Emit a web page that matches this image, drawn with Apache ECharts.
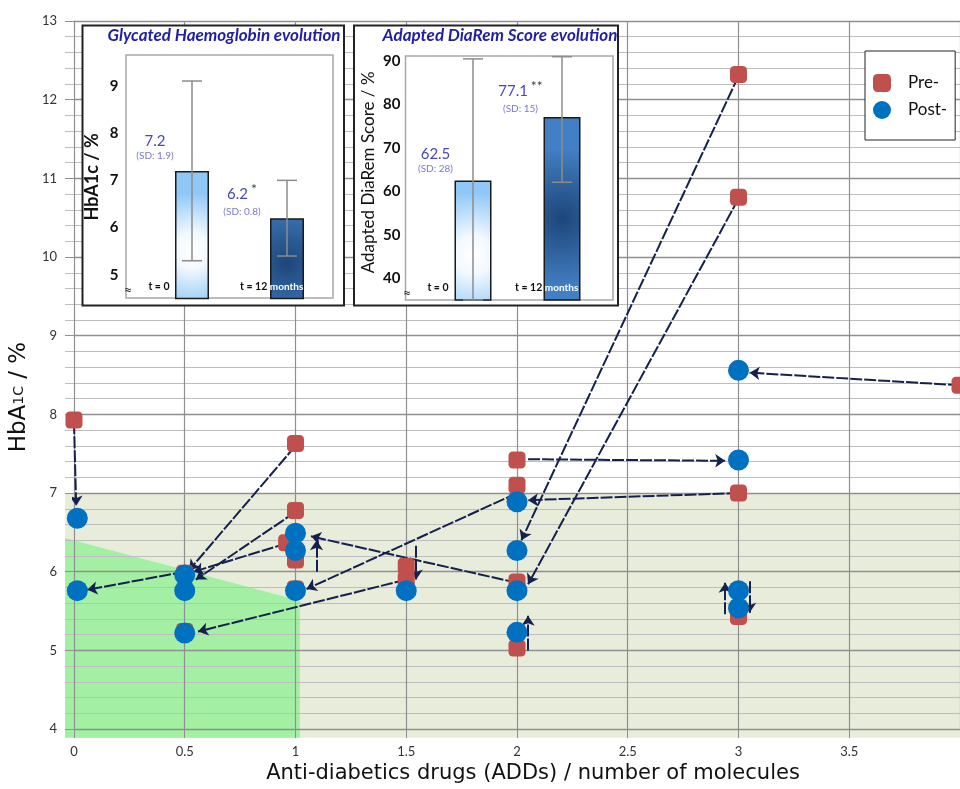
<!DOCTYPE html>
<html><head><meta charset="utf-8">
<script src="https://cdn.jsdelivr.net/npm/echarts@6/dist/echarts.min.js"></script>
<style>html,body{margin:0;padding:0;background:#fff}#c{width:960px;height:789px}</style>
</head><body><div id="c"></div>
<script>
// ---------- main chart data ----------
const xTicks = [0, 0.5, 1, 1.5, 2, 2.5, 3, 3.5];
const yTicks = [4, 5, 6, 7, 8, 9, 10, 11, 12, 13];
const preX  = [0, 1, 1, 0.96, 1, 1, 0.5, 0.5, 0.015, 1.5, 1.5, 2, 2, 2, 2, 3, 3, 3, 3, 4];
const preY  = [7.93, 7.63, 6.78, 6.37, 6.15, 5.78, 5.98, 5.24, 5.76, 6.07, 5.9, 7.42, 7.1, 5.87, 5.03, 12.32, 10.76, 7.0, 5.43, 8.37];
const postX = [0.015, 0.015, 0.5, 0.5, 0.5, 1, 1, 1, 1.5, 2, 2, 2, 2, 3, 3, 3, 3];
const postY = [6.68, 5.76, 5.96, 5.76, 5.22, 6.49, 6.27, 5.76, 5.76, 6.89, 6.27, 5.76, 5.23, 8.56, 7.42, 5.76, 5.54];
const arrowFromX = [0, 1, 1, 0.96, 0.5, 1.5, 2, 2, 1.095, 1.545, 2.05, 3, 3, 3, 4, 2.94, 3.05, 2.05];
const arrowFromY = [7.9, 7.6, 6.76, 6.36, 6.0, 5.9, 7.0, 5.86, 6.0, 6.33, 7.43, 7.0, 12.3, 10.74, 8.37, 5.46, 5.88, 5.0];
const arrowToX   = [0.01, 0.52, 0.55, 0.54, 0.06, 0.56, 1.05, 1.07, 1.095, 1.545, 2.94, 2.05, 2.02, 2.05, 3.05, 2.94, 3.05, 2.05];
const arrowToY   = [6.84, 6.02, 5.9, 6.0, 5.77, 5.24, 5.78, 6.45, 6.4, 5.9, 7.41, 6.91, 6.4, 5.84, 8.53, 5.86, 5.48, 5.44];
// target zones (HbA1c < 7 %, and remission zone)
const targetZoneX = [-0.04, -0.04, 4, 4];
const targetZoneY = [3.89, 7, 7, 3.89];
const remissionZoneX = [-0.04, -0.04, 1.02, 1.02];
const remissionZoneY = [3.89, 6.43, 5.63, 3.89];

// ---------- inset data ----------
const insetCats = ['t = 0', 't = 12 months'];
const hbMean = [7.2, 6.2];
const hbSD = [1.9, 0.8];
const hbSig = ['', '*'];
const drMean = [62.5, 77.1];
const drSD = [28, 15];
const drSig = ['', '**'];
const hbRange = [4.5, 9.65];
const drRange = [35, 91];

const lightGrad = {type:'radial', x:0.5, y:0.62, r:1.7, colorStops:[{offset:0,color:'#ffffff'},{offset:0.3,color:'#f3f9ff'},{offset:1,color:'#8fc8f6'}]};
const darkGrad  = {type:'radial', x:0.5, y:0.55, r:1.9, colorStops:[{offset:0,color:'#1d4679'},{offset:1,color:'#437fc4'}]};
const barGrads = [lightGrad, darkGrad];

const chart = echarts.init(document.getElementById('c'));

function zoneRender(params, api) {
  const pts = (xs, ys) => xs.map((x, i) => api.coord([x, ys[i]]));
  return {type:'group', children:[
    {type:'polygon', shape:{points: pts(targetZoneX, targetZoneY)}, style:{fill:'#e8eddb'}},
    {type:'polygon', shape:{points: pts(remissionZoneX, remissionZoneY)}, style:{fill:'#a3efa3'}}
  ]};
}
function errRender(params, api) {
  const x = api.value(0);
  const top = api.coord([x, api.value(2)]);
  const bot = api.coord([x, api.value(1)]);
  const hw = 10, st = {stroke:'#8c8c8c', lineWidth:1.5};
  return {type:'group', children:[
    {type:'line', shape:{x1:top[0], y1:top[1], x2:bot[0], y2:bot[1]}, style:st},
    {type:'line', shape:{x1:top[0]-hw, y1:top[1], x2:top[0]+hw, y2:top[1]}, style:st},
    {type:'line', shape:{x1:bot[0]-hw, y1:bot[1], x2:bot[0]+hw, y2:bot[1]}, style:st}
  ]};
}
function errData(mean, sd, range) {
  return mean.map((m, i) => [i, Math.max(m - sd[i], range[0]), Math.min(m + sd[i], range[1])]);
}
const labelRich = {
  v:{fontSize:15, color:'#4646c2', fontFamily:'Lato', lineHeight:17},
  g:{fontSize:14, color:'#444', fontFamily:'Lato', padding:[0,0,9,3]},
  s:{fontSize:10, color:'#7878d6', fontFamily:'Lato', lineHeight:12}
};
function barData(mean, sig, sd, positions) {
  return mean.map((v, i) => ({
    value: v,
    itemStyle: {color: barGrads[i], borderColor:'#1a1a1a', borderWidth:1.5},
    label: {show:true, position: positions[i], align:'center', verticalAlign:'middle',
      formatter: '{v|' + v + '}' + (sig[i] ? '{g|' + sig[i] + '}' : '') + '\n{s|(SD: ' + sd[i] + ')}',
      rich: labelRich}
  }));
}
const hbLabelPos = [[-20, -24], [-28, -18]];
const drLabelPos = [[-19, -20], [-23, -20]];
const intFmt = step => v => (Math.abs(v - Math.round(v / step) * step) < 1e-6 ? String(Math.round(v)) : '');

function tLabel(xCenter0, y, xLeft1, cats) {
  return [
    {type:'text', x:xCenter0, y:y, z:40, style:{text:cats[0], font:'bold 10.5px Lato', fill:'#111', align:'center', verticalAlign:'middle'}},
    {type:'text', x:xLeft1, y:y, z:40, style:{text:cats[1].replace('months', '{w|months}'), font:'bold 10.5px Lato', fill:'#111', align:'left', verticalAlign:'middle',
      rich:{w:{fill:'#ffffff', color:'#ffffff', font:'bold 10px Lato'}}}}
  ];
}

const option = {
  animation: false,
  backgroundColor: '#ffffff',
  legend: {
    data:['Pre-','Post-'], orient:'vertical', left:865, top:51,
    padding:[23, 8, 21, 8], itemGap:9, itemWidth:18, itemHeight:18,
    borderColor:'#222', borderWidth:1, backgroundColor:'#fff',
    textStyle:{fontSize:17, fontFamily:'Lato', color:'#111', padding:[0,0,8,12]}
  },
  grid: [
    {left:72, top:21, width:892, height:711},
    {left:144.5, top:55, width:190, height:243.6, z:12},
    {left:428.5, top:56.7, width:178, height:243.3, z:12}
  ],
  xAxis: [
    {type:'value', gridIndex:0, min:xTicks[0], max:4, interval:0.5, z:3,
     axisLine:{show:true, lineStyle:{color:'#8f8f8f'}},
     axisTick:{show:true, length:9, lineStyle:{color:'#8f8f8f'}},
     splitLine:{show:true, lineStyle:{color:'#8f8f8f', width:1.2}},
     axisLabel:{fontSize:13, fontFamily:'Lato', color:'#333', margin:16, showMaxLabel:false,
       formatter: v => (xTicks.indexOf(v) >= 0 ? String(v) : '')},
     name:'Anti-diabetics drugs (ADDs) / number of molecules', nameLocation:'middle', nameGap:32,
     nameTextStyle:{fontSize:21, fontFamily:'DejaVu Sans', color:'#111', padding:[0,0,0,32]}},
    {type:'category', gridIndex:1, data:insetCats, z:12, axisLine:{show:false}, axisTick:{show:false}, axisLabel:{show:false}},
    {type:'category', gridIndex:2, data:insetCats, z:12, axisLine:{show:false}, axisTick:{show:false}, axisLabel:{show:false}}
  ],
  yAxis: [
    {type:'value', gridIndex:0, min:yTicks[0], max:yTicks[yTicks.length-1], interval:1, z:3,
     axisLine:{show:true, lineStyle:{color:'#8f8f8f'}},
     axisTick:{show:true, length:9, lineStyle:{color:'#8f8f8f'}},
     minorTick:{show:true, splitNumber:5, length:9, lineStyle:{color:'#bdbdbd'}},
     splitLine:{show:true, lineStyle:{color:'#8f8f8f', width:1.3}},
     minorSplitLine:{show:true, lineStyle:{color:'#bdbdbd', width:1.1}},
     axisLabel:{fontSize:13, fontFamily:'Lato', color:'#333', margin:17},
     name:'{a|HbA}{s|1C}{a| / %}', nameLocation:'middle', nameGap:36, nameRotate:90,
     nameTextStyle:{padding:[0,44,0,0], rich:{a:{fontSize:23, fontFamily:'DejaVu Sans', color:'#111'}, s:{fontSize:14, fontFamily:'DejaVu Sans', color:'#111'}}}},
    {type:'value', gridIndex:1, min:hbRange[0], max:hbRange[1], interval:0.5, z:12,
     axisLine:{show:false}, axisTick:{show:false}, splitLine:{show:false},
     axisLabel:{fontSize:15, fontWeight:'bold', fontFamily:'Lato', color:'#111', margin:26, formatter:intFmt(1)},
     name:'HbA1c / %', nameLocation:'middle', nameGap:43,
     nameTextStyle:{fontSize:18, fontWeight:'bold', fontFamily:'Lato', color:'#111'}},
    {type:'value', gridIndex:2, min:drRange[0], max:drRange[1], interval:5, z:12,
     axisLine:{show:false}, axisTick:{show:false}, splitLine:{show:false},
     axisLabel:{fontSize:15, fontWeight:'bold', fontFamily:'Lato', color:'#111', margin:28, formatter:intFmt(10)},
     name:'Adapted DiaRem Score / %', nameLocation:'middle', nameGap:51,
     nameTextStyle:{fontSize:17, fontFamily:'Lato', color:'#111', padding:[0,0,0,12]}}
  ],
  graphic: {elements: [
    {type:'rect', z:10, shape:{x:82.5, y:25.5, width:261.5, height:280}, style:{fill:'#fff', stroke:'#222', lineWidth:2}},
    {type:'rect', z:10, shape:{x:354, y:25.5, width:264, height:280}, style:{fill:'#fff', stroke:'#222', lineWidth:2}},
    {type:'rect', z:11, shape:{x:126, y:55, width:207, height:243}, style:{fill:'none', stroke:'#a8a8a8', lineWidth:1.5}},
    {type:'rect', z:11, shape:{x:405.5, y:56, width:207.5, height:244}, style:{fill:'none', stroke:'#a8a8a8', lineWidth:1.5}},
    {type:'text', z:40, x:224, y:36, style:{text:'Glycated Haemoglobin evolution', font:'italic bold 17px Lato', fill:'#1e1ea6', align:'center', verticalAlign:'middle'}},
    {type:'text', z:40, x:500, y:36, style:{text:'Adapted DiaRem Score evolution', font:'italic bold 17px Lato', fill:'#1e1ea6', align:'center', verticalAlign:'middle'}},
    {type:'text', z:40, x:128, y:290, style:{text:'≈', font:'14px Lato', fill:'#222', align:'center', verticalAlign:'middle'}},
    {type:'text', z:40, x:407, y:293, style:{text:'≈', font:'14px Lato', fill:'#222', align:'center', verticalAlign:'middle'}}
  ].concat(tLabel(159, 287, 240, insetCats), tLabel(438, 288, 515, insetCats))},
  series: [
    {type:'custom', name:'zones', xAxisIndex:0, yAxisIndex:0, data:[[0, 0]], renderItem:zoneRender, clip:false, silent:true, z:1},
    {type:'lines', name:'arrows', coordinateSystem:'cartesian2d', xAxisIndex:0, yAxisIndex:0, z:4,
     symbol:['none','arrow'], symbolSize:10,
     lineStyle:{color:'#15214c', width:2, type:[12, 2], opacity:1},
     data: arrowFromX.map((x, i) => ({coords:[[x, arrowFromY[i]], [arrowToX[i], arrowToY[i]]]}))},
    {type:'scatter', name:'Pre-', xAxisIndex:0, yAxisIndex:0, z:5, symbol:'roundRect', symbolSize:17,
     itemStyle:{color:'#c0504d', opacity:1}, data: preX.map((x, i) => [x, preY[i]])},
    {type:'scatter', name:'Post-', xAxisIndex:0, yAxisIndex:0, z:6, symbol:'circle', symbolSize:21,
     itemStyle:{color:'#0070c0', opacity:1}, data: postX.map((x, i) => [x, postY[i]])},
    {type:'bar', name:'hb', xAxisIndex:1, yAxisIndex:1, z:20, barWidth:34, data: barData(hbMean, hbSig, hbSD, hbLabelPos)},
    {type:'custom', name:'hbErr', xAxisIndex:1, yAxisIndex:1, z:22, renderItem:errRender, encode:{x:0, y:[1,2]}, data: errData(hbMean, hbSD, hbRange)},
    {type:'bar', name:'dr', xAxisIndex:2, yAxisIndex:2, z:20, barWidth:37, data: barData(drMean, drSig, drSD, drLabelPos)},
    {type:'custom', name:'drErr', xAxisIndex:2, yAxisIndex:2, z:22, renderItem:errRender, encode:{x:0, y:[1,2]}, data: errData(drMean, drSD, drRange)}
  ]
};
chart.setOption(option);
</script></body></html>
